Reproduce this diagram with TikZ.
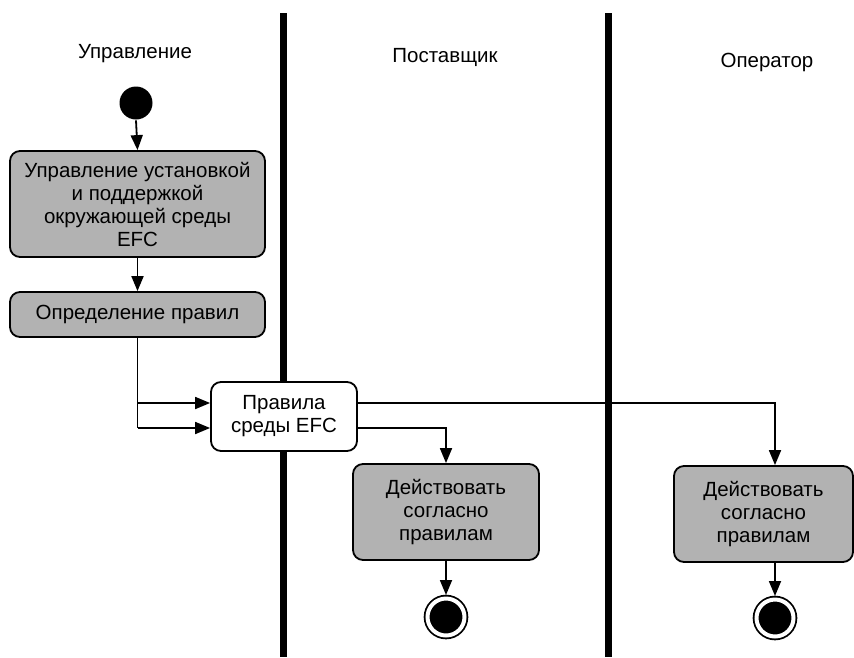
\documentclass[tikz,border=0pt]{standalone}
\usepackage{fontspec}
\setmainfont{Liberation Sans}
\usetikzlibrary{arrows.meta}
\definecolor{actgray}{RGB}{178,178,178}

\begin{document}
\begin{tikzpicture}[x=1pt,y=-1pt,line width=1.8pt,
    font=\fontsize{20.5}{23}\selectfont,
    act/.style={draw,fill=actgray,rounded corners=10pt,align=center,inner sep=0pt},
    lane/.style={line width=7pt},
    flow/.style={-{Triangle[length=15pt,width=12pt]}},
    startnode/.style={circle,fill=black,minimum size=33pt,inner sep=0pt},
    endnode/.style={circle,draw,fill=black,double=white,double distance=4pt,minimum size=37pt,inner sep=0pt,outer sep=3.5pt}]
    \useasboundingbox (0,0) rectangle (854,657);

    \node (u) at (135,54) {Управление};
    \node (p) at (445,57) {Поставщик};
    \node (o) at (767,62) {Оператор};

    \draw[lane] (283,13) -- (283,657);
    \draw[lane] (608,13) -- (608,657);

    \node (0) at (136,103) [startnode] {};
    \node (1) at (137.5,204) [act,minimum width=255pt,minimum height=106pt] {Управление установкой\\и поддержкой\\окружающей среды\\EFC};
    \node (2) at (137.5,314.5) [act,minimum width=255pt,minimum height=45pt] {Определение правил};
    \node (3) at (284,416.5) [act,fill=white,minimum width=146pt,minimum height=69pt] {Правила\\среды EFC};
    \node (4) at (446,512) [act,minimum width=186pt,minimum height=96pt] {Действовать\\согласно\\правилам};
    \node (5) at (763.5,514) [act,minimum width=179pt,minimum height=96pt] {Действовать\\согласно\\правилам};
    \node (6) at (446,617) [endnode] {};
    \node (7) at (775,618) [endnode] {};

    \coordinate (b1) at (137.5,403);
    \coordinate (b2) at (137.5,428);

    \draw[flow] (node cs:name=0,anchor=south) -- (node cs:name=1,anchor=north);
    \draw[flow] (node cs:name=1,anchor=south) -- (node cs:name=2,anchor=north);
    \draw (node cs:name=2,anchor=south) -- (b2);
    \draw[flow] (b1) -- (b1 -| 3.west);
    \draw[flow] (b2) -- (b2 -| 3.west);

    \draw[flow] (3.east |- b1) -| (7 |- 5.north);
    \draw[flow] (3.east |- b2) -| (node cs:name=4,anchor=north);

    \draw[flow] (node cs:name=4,anchor=south) -- (6);
    \draw[flow] (5.south -| 7) -- (7);

  \end{tikzpicture}
\end{document}
